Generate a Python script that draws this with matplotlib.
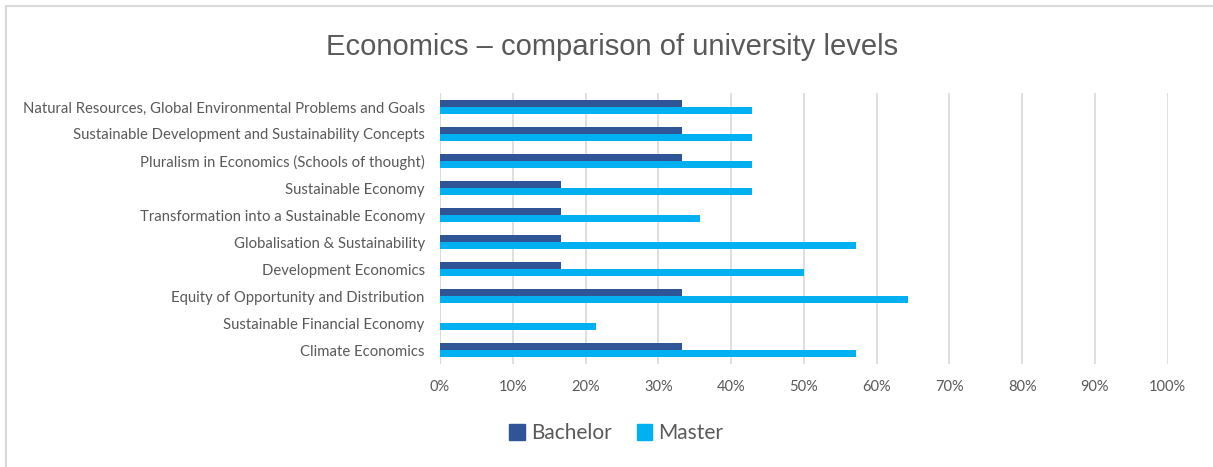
import matplotlib.pyplot as plt
from matplotlib.lines import Line2D
from matplotlib.patches import Patch
from matplotlib.ticker import PercentFormatter
import numpy as np

# topics, listed top to bottom as in the chart
topics = [
    "Natural Resources, Global Environmental Problems and Goals",
    "Sustainable Development and Sustainability Concepts",
    "Pluralism in Economics (Schools of thought)",
    "Sustainable Economy",
    "Transformation into a Sustainable Economy",
    "Globalisation & Sustainability",
    "Development Economics",
    "Equity of Opportunity and Distribution",
    "Sustainable Financial Economy",
    "Climate Economics",
]
bachelor = [33.3, 33.3, 33.3, 16.7, 16.7, 16.7, 16.7, 33.3, 0.0, 33.3]
master = [42.9, 42.9, 42.9, 42.9, 35.7, 57.1, 50.0, 64.3, 21.4, 57.1]

dark_blue = "#2F5597"
light_blue = "#00B0F0"
text_grey = "#595959"

fig = plt.figure(figsize=(12.13, 4.67), dpi=100)
ax = fig.add_axes([0.3627, 0.2216, 0.6000, 0.5782])

y = np.arange(len(topics))
h = 0.26
ax.barh(y - h / 2, bachelor, height=h, color=dark_blue, zorder=3)
ax.barh(y + h / 2, master, height=h, color=light_blue, zorder=3)

ax.set_ylim(len(topics) - 0.5, -0.5)
ax.set_xlim(0, 100)
ax.set_xticks(np.arange(0, 101, 10))
ax.xaxis.set_major_formatter(PercentFormatter(decimals=0))
ax.set_yticks(y)
ax.set_yticklabels(topics)

ax.grid(axis="x", color="#D9D9D9", linewidth=1.2, zorder=0)
for s in ax.spines.values():
    s.set_visible(False)
ax.axvline(0, color="#D9D9D9", linewidth=1.2, zorder=1)
ax.tick_params(axis="both", length=0, colors=text_grey)
ax.tick_params(axis="y", pad=11, labelsize=10.7)
ax.tick_params(axis="x", pad=12, labelsize=10.5)
for lbl in ax.get_xticklabels() + ax.get_yticklabels():
    lbl.set_fontfamily("Lato")

fig.text(0.5045, 0.900, "Economics \u2013 comparison of university levels",
         ha="center", va="center", fontsize=21, color=text_grey,
         family="Liberation Sans")

handles = [Patch(color=dark_blue, label="Bachelor"),
           Patch(color=light_blue, label="Master")]
fig.legend(handles=handles, loc="center", bbox_to_anchor=(0.508, 0.072),
           ncol=2, frameon=False, handlelength=0.75,
           handleheight=0.75, handletextpad=0.3, columnspacing=1.2,
           prop={"family": "Lato", "size": 15}, labelcolor=text_grey)

# thin frame on the top and left edge
fig.add_artist(Line2D([0.005, 1.0], [0.987, 0.987], color="#D9D9D9",
                      linewidth=1.5, transform=fig.transFigure))
fig.add_artist(Line2D([0.005, 0.005], [0.0, 0.987], color="#D9D9D9",
                      linewidth=1.5, transform=fig.transFigure))

fig.savefig("out.png", dpi=100)
